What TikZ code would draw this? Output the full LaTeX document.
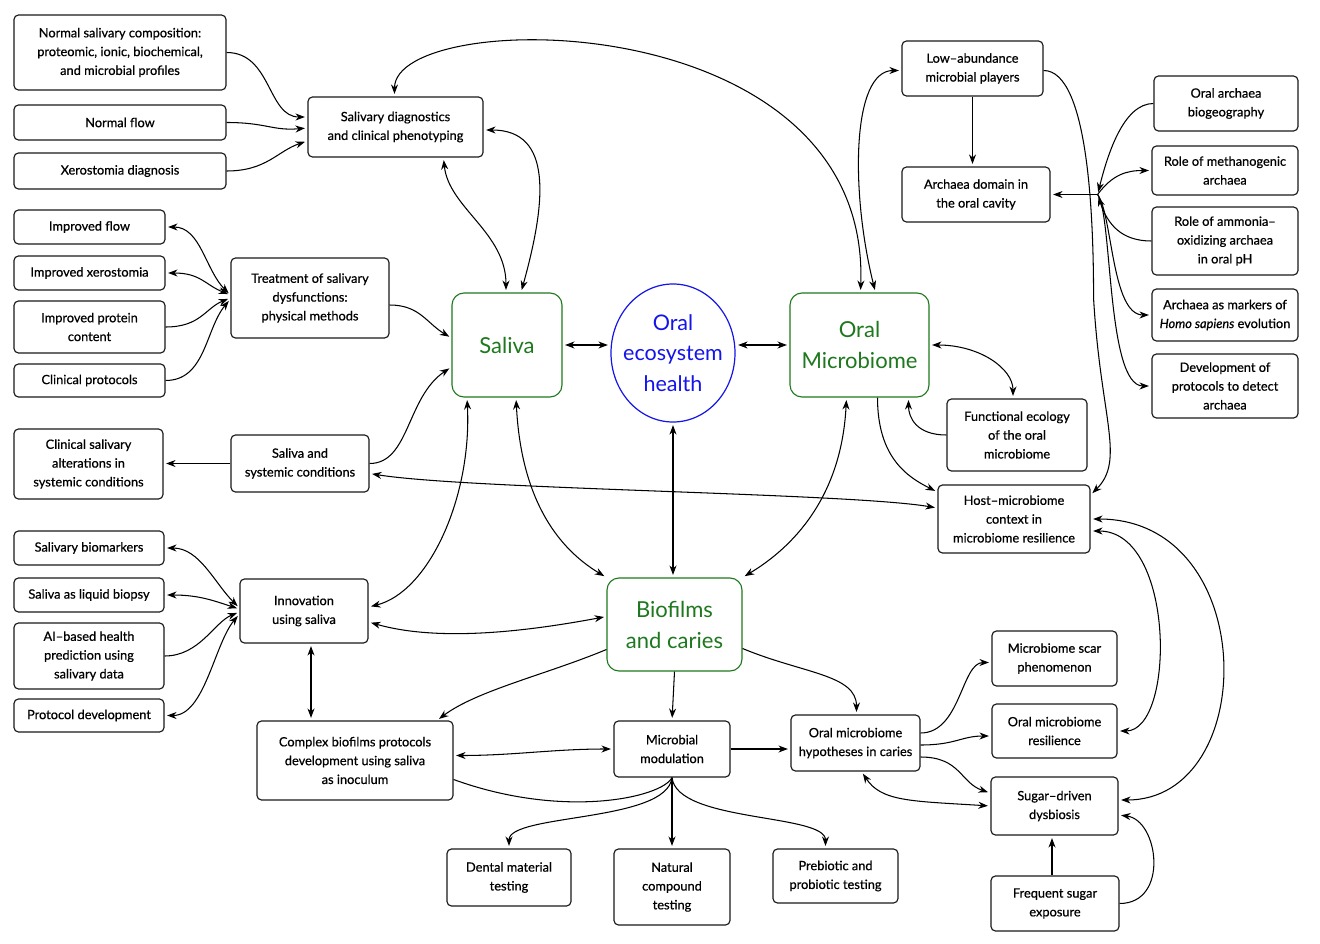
\documentclass[tikz,border=0pt]{standalone}
\usepackage{fontspec}
\setmainfont{Lato}
\newfontfamily\boxfont{Lato}[FakeBold=0.6,Ligatures=TeX]
\usetikzlibrary{shapes.geometric,arrows.meta,calc}
\definecolor{mgreen}{RGB}{30,120,30}
\definecolor{mblue}{RGB}{20,20,235}
\tikzset{
  box/.style={draw=black!90, line width=1.15pt, rounded corners=4.5pt, fill=white, align=center,
    font=\boxfont\fontsize{12.8}{18.8}\selectfont, inner sep=1pt},
  mainbox/.style={draw=mgreen, line width=1.1pt, rounded corners=12pt, fill=white, align=center,
    text=mgreen, font=\fontsize{22}{31}\selectfont, inner sep=1pt},
  hub/.style={draw=mblue, line width=1.2pt, ellipse, align=center, text=mblue,
    font=\fontsize{21.5}{30.5}\selectfont, inner xsep=-8pt, inner ysep=-4pt},
  arr/.style={-{Stealth[length=9.5pt,width=7pt]}, line width=1.05pt, shorten >=2.5pt},
  darr/.style={{Stealth[length=9.5pt,width=7pt]}-{Stealth[length=9.5pt,width=7pt]}, line width=1.05pt,
    shorten >=2.5pt, shorten <=2.5pt},
  ln/.style={line width=1.05pt}
}
\begin{document}
\begin{tikzpicture}[x=1pt,y=1pt]
\useasboundingbox (0,0) rectangle (1320,-944);
\fill[white] (0,0) rectangle (1320,-944);

% left top
\node[box, minimum width=212, minimum height=75] (norm) at (120,-52.5) {Normal salivary composition:\\ proteomic, ionic, biochemical,\\ and microbial profiles};
\node[box, minimum width=212, minimum height=35] (nflow) at (120,-122.5) {Normal flow};
\node[box, minimum width=212, minimum height=36] (xero) at (120,-171) {Xerostomia diagnosis};
\node[box, minimum width=175, minimum height=60] (sdiag) at (395.5,-127) {Salivary diagnostics\\ and clinical phenotyping};

\node[box, minimum width=151, minimum height=34] (iflow) at (89.5,-227) {Improved flow};
\node[box, minimum width=151, minimum height=34] (ixero) at (89.5,-273) {Improved xerostomia};
\node[box, minimum width=151, minimum height=52] (iprot) at (89.5,-327) {Improved protein\\ content};
\node[box, minimum width=151, minimum height=33] (clinp) at (89.5,-380.5) {Clinical protocols};
\node[box, minimum width=158, minimum height=80] (treat) at (310,-298) {Treatment of salivary\\ dysfunctions:\\ physical methods};

\node[mainbox, minimum width=110, minimum height=104] (saliva) at (507,-345) {Saliva};
\node[hub, minimum width=124, minimum height=138] (oeh) at (673,-353) {Oral\\ ecosystem\\ health};
\node[mainbox, minimum width=139, minimum height=104] (om) at (859.5,-345) {Oral\\ Microbiome};

% right top
\node[box, minimum width=141, minimum height=55] (low) at (972.5,-68.5) {Low–abundance\\ microbial players};
\node[box, minimum width=148, minimum height=55] (arch) at (976,-194.5) {Archaea domain in\\ the oral cavity};
\node[box, minimum width=144, minimum height=55] (obio) at (1226,-103.5) {Oral archaea\\ biogeography};
\node[box, minimum width=146, minimum height=49] (meth) at (1225,-170.5) {Role of methanogenic\\ archaea};
\node[box, minimum width=146, minimum height=68] (amm) at (1225,-241) {Role of ammonia–\\ oxidizing archaea\\ in oral pH};
\node[box, minimum width=146, minimum height=52] (homo) at (1225,-315) {Archaea as markers of\\ \textit{Homo sapiens} evolution};
\node[box, minimum width=146, minimum height=64] (dev) at (1225,-386) {Development of\\ protocols to detect\\ archaea};
\node[box, minimum width=140, minimum height=72] (func) at (1017,-435) {Functional ecology\\ of the oral\\ microbiome};
\node[box, minimum width=152, minimum height=68] (host) at (1014,-519) {Host–microbiome\\ context in\\ microbiome resilience};

% left middle / bottom
\node[box, minimum width=149, minimum height=70] (clinsal) at (88.5,-464) {Clinical salivary\\ alterations in\\ systemic conditions};
\node[box, minimum width=138, minimum height=57] (sasys) at (300,-463.5) {Saliva and\\ systemic conditions};
\node[box, minimum width=150, minimum height=34] (sbio) at (89,-548) {Salivary biomarkers};
\node[box, minimum width=150, minimum height=34] (slb) at (89,-595) {Saliva as liquid biopsy};
\node[box, minimum width=150, minimum height=66] (ai) at (89,-656) {AI–based health\\ prediction using\\ salivary data};
\node[box, minimum width=150, minimum height=33] (prot) at (89,-715.5) {Protocol development};
\node[box, minimum width=128, minimum height=64] (innov) at (304,-611) {Innovation\\ using saliva};

\node[mainbox, minimum width=135, minimum height=93] (bio) at (674.5,-624.5) {Biofilms\\ and caries};
\node[box, minimum width=196, minimum height=79] (cbio) at (355,-760.5) {Complex biofilms protocols\\ development using saliva\\ as inoculum};
\node[box, minimum width=116, minimum height=56] (mm) at (672,-749) {Microbial\\ modulation};
\node[box, minimum width=129, minimum height=56] (omh) at (855.5,-743) {Oral microbiome\\ hypotheses in caries};
\node[box, minimum width=125, minimum height=55] (scar) at (1054.5,-658.5) {Microbiome scar\\ phenomenon};
\node[box, minimum width=125, minimum height=54] (omr) at (1054.5,-731) {Oral microbiome\\ resilience};
\node[box, minimum width=127, minimum height=58] (sugar) at (1054.5,-806) {Sugar–driven\\ dysbiosis};
\node[box, minimum width=128, minimum height=55] (freq) at (1055,-903.5) {Frequent sugar\\ exposure};
\node[box, minimum width=124, minimum height=57] (dental) at (509,-877.5) {Dental material\\ testing};
\node[box, minimum width=116, minimum height=76] (nat) at (672,-887) {Natural\\ compound\\ testing};
\node[box, minimum width=125, minimum height=54] (pre) at (835.5,-876) {Prebiotic and\\ probiotic testing};

\coordinate (ahub) at ($(arch.east)+(47,0)$);

% ---- connectors ----
\draw[arr] (norm.east) .. controls +(45,0) and +(-40,0) .. ([yshift=10]sdiag.west);
\draw[arr] (nflow.east) .. controls +(40,0) and +(-35,-3) .. ([yshift=-1]sdiag.west);
\draw[arr] (xero.east) .. controls +(40,0) and +(-30,-10) .. ([yshift=-14]sdiag.west);
\draw[darr] ([xshift=-1]sdiag.north) .. controls +(0,90) and +(10,290) .. ([xshift=1]om.north);
\draw[darr] ([xshift=48]sdiag.south) .. controls +(5,-50) and +(0,60) .. ([xshift=-1]saliva.north);
\draw[darr] ([yshift=-3]sdiag.east) .. controls +(70,0) and +(25,90) .. ([xshift=14]saliva.north);

\draw[darr] ([yshift=-2]low.west) .. controls +(-50,0) and +(-25,100) .. ([xshift=16]om.north);
\draw[arr] (low.south) -- (low.south |- arch.north);
\coordinate (lh) at ($(low.east)+(50,-230)$);
\draw[arr] ([yshift=-2]low.east) .. controls +(45,0) and +(0,80) .. (lh) .. controls +(7,-120) and +(35,35) .. ([yshift=24]host.east);

\draw[arr] (ahub) -- (arch.east);
\draw[arr] (obio.west) .. controls +(-30,0) and +(10,40) .. (ahub);
\draw[arr] (ahub) .. controls +(15,20) and +(-25,0) .. (meth.west);
\draw[arr] (amm.west) .. controls +(-30,0) and +(10,-30) .. (ahub);
\draw[arr] (ahub) .. controls +(15,-20) and +(-40,0) .. (homo.west);
\draw[arr] (ahub) .. controls +(15,-20) and +(-45,0) .. (dev.west);

\draw[darr] (saliva.east) -- (saliva.east -| oeh.west);
\draw[darr] (oeh.east |- om.west) -- (om.west);

\draw[darr] (om.east) .. controls +(50,0) and +(0,30) .. ([xshift=-4]func.north);
\draw[arr] (func.west) .. controls +(-30,0) and +(0,-20) .. ([xshift=49]om.south);
\draw[arr] ([xshift=18]om.south) .. controls +(0,-60) and +(-30,15) .. ([yshift=27]host.west);
\draw[darr] ([yshift=-10]sasys.east) .. controls +(100,-16) and +(-88,15) .. ([yshift=11]host.west);

\draw[arr] (sasys.east) .. controls +(40,0) and +(-45,-30) .. ([yshift=-22]saliva.west);
\draw[arr] (sasys.west) -- (sasys.west -| clinsal.east);
\draw[arr] ([yshift=-7]treat.east) .. controls +(30,0) and +(-25,15) .. ([yshift=7]saliva.west);

\draw[darr] (iflow.east) .. controls +(35,0) and +(-25,25) .. ([yshift=3]treat.west);
\draw[darr] (ixero.east) .. controls +(35,0) and +(-25,10) .. ([yshift=3]treat.west);
\draw[arr] (iprot.east) .. controls +(35,0) and +(-25,-10) .. (treat.west);
\draw[arr] (clinp.east) .. controls +(40,0) and +(-25,-30) .. ([yshift=-1]treat.west);

\draw[darr] (sbio.east) .. controls +(35,0) and +(-25,25) .. ([yshift=3]innov.west);
\draw[darr] (slb.east) .. controls +(35,0) and +(-25,8) .. ([yshift=2]innov.west);
\draw[arr] (ai.east) .. controls +(35,0) and +(-25,-10) .. ([yshift=-1]innov.west);
\draw[darr] (prot.east) .. controls +(40,0) and +(-25,-30) .. ([yshift=-3]innov.west);

\draw[darr] ([yshift=4]innov.east) .. controls +(60,15) and +(5,-100) .. ([xshift=-40]saliva.south);
\draw[darr] ([xshift=9]saliva.south) .. controls +(5,-100) and +(-50,30) .. (bio.north west);
\draw[darr] (oeh.south) -- (oeh.south |- bio.north);
\draw[darr] ([xshift=-13]om.south) .. controls +(-5,-100) and +(50,30) .. (bio.north east);
\draw[darr] ([yshift=-11]innov.east) .. controls +(70,-20) and +(-80,-15) .. ([yshift=8]bio.west);
\draw[darr] ([xshift=7]innov.south) -- ([xshift=7]innov.south |- cbio.north);

\draw[arr] ([yshift=-25]bio.west) .. controls +(-60,-25) and +(40,30) .. ([xshift=82]cbio.north);
\draw[arr] (bio.south) -- (mm.north);
\draw[arr] ([yshift=-24]bio.east) .. controls +(60,-25) and +(0,40) .. ([xshift=1]omh.north);
\draw[darr] ([yshift=5]cbio.east) .. controls +(60,0) and +(-60,0) .. (mm.west);
\draw[ln] ([yshift=-19]cbio.east) .. controls +(110,-40) and +(-10,-20) .. (mm.south);

\draw[arr] (mm.south) .. controls +(-5,-45) and +(0,35) .. (dental.north);
\draw[arr] (mm.south) -- (nat.north);
\draw[arr] (mm.south) .. controls +(5,-45) and +(0,35) .. ([xshift=-10]pre.north);
\draw[arr] (mm.east) -- (mm.east -| omh.west);

\draw[arr] ([yshift=10]omh.east) .. controls +(40,0) and +(-30,0) .. ([yshift=-4]scar.west);
\draw[arr] ([yshift=-2]omh.east) .. controls +(35,0) and +(-30,0) .. ([yshift=-5]omr.west);
\draw[arr] ([yshift=-14]omh.east) .. controls +(40,0) and +(-30,10) .. ([yshift=13]sugar.west);
\draw[darr] ([xshift=6]omh.south) .. controls +(20,-30) and +(-80,5) .. (sugar.west);

\draw[darr] (omr.east) .. controls +(58,0) and +(85,0) .. ([yshift=-12]host.east);
\draw[darr] ([yshift=6]sugar.east) .. controls +(142,0) and +(170,0) .. (host.east);
\draw[arr] ([xshift=-3]freq.north) -- ([xshift=-3]freq.north |- sugar.south);
\draw[arr] (freq.east) .. controls +(50,0) and +(40,-5) .. ([yshift=-9]sugar.east);
\end{tikzpicture}
\end{document}
